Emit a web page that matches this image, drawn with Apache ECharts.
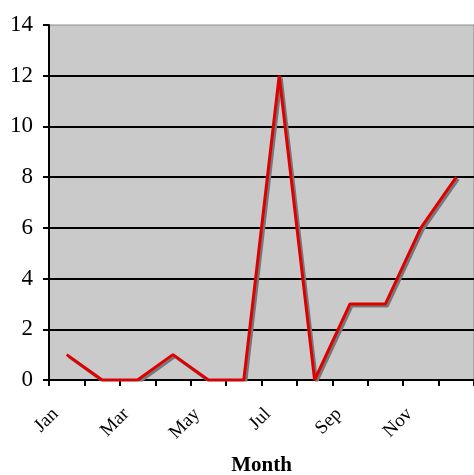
<!DOCTYPE html>
<html>
<head>
<meta charset="utf-8">
<script src="https://cdn.jsdelivr.net/npm/echarts@6/dist/echarts.min.js"></script>
<style>
  html, body { margin: 0; padding: 0; background: #fff; }
  #chart { width: 474px; height: 475px; }
</style>
</head>
<body>
<div id="chart"></div>
<script>
// 月份与数值
var months = ['Jan', 'Feb', 'Mar', 'Apr', 'May', 'Jun', 'Jul', 'Aug', 'Sep', 'Oct', 'Nov', 'Dec'];
var counts = [1, 0, 0, 1, 0, 0, 12, 0, 3, 3, 6, 8];

var myChart = echarts.init(document.getElementById('chart'));
var option = {
    backgroundColor: '#ffffff',
    animation: false,
    grid: {
        left: 49,
        top: 25,
        right: 0,
        bottom: 95,
        outerBoundsMode: 'none',
        show: true,
        backgroundColor: '#cacaca',
        borderColor: '#8a8a8a',
        borderWidth: 1
    },
    xAxis: {
        type: 'category',
        data: months,
        boundaryGap: true,
        name: 'Month',
        nameLocation: 'middle',
        nameGap: 75,
        nameTextStyle: {
            fontFamily: 'Liberation Serif',
            fontWeight: 'bold',
            fontSize: 21,
            color: '#000'
        },
        axisLine: { lineStyle: { color: '#000', width: 2 } },
        axisTick: { show: true, interval: 0, length: 6, lineStyle: { color: '#000', width: 2 } },
        axisLabel: {
            interval: 1, // 隔一个显示
            rotate: 45,
            margin: 20,
            padding: [0, 16, 0, 0],
            fontFamily: 'Liberation Serif',
            fontSize: 19,
            color: '#000'
        },
        splitLine: { show: false }
    },
    yAxis: {
        type: 'value',
        min: 0,
        max: 14,
        interval: 2,
        axisLine: { show: true, lineStyle: { color: '#000', width: 2 } },
        axisTick: { show: true, length: 6, lineStyle: { color: '#000', width: 2 } },
        axisLabel: {
            margin: 16,
            fontFamily: 'Liberation Serif',
            fontSize: 23,
            color: '#000'
        },
        splitLine: { show: true, showMaxLine: false, lineStyle: { color: '#000', width: 2 } }
    },
    series: [{
        type: 'line',
        data: counts,
        symbol: 'none',
        lineStyle: {
            color: '#dd0000',
            width: 3,
            shadowColor: '#777777',
            shadowBlur: 0,
            shadowOffsetX: 2,
            shadowOffsetY: 2
        }
    }]
};
myChart.setOption(option);
</script>
</body>
</html>
